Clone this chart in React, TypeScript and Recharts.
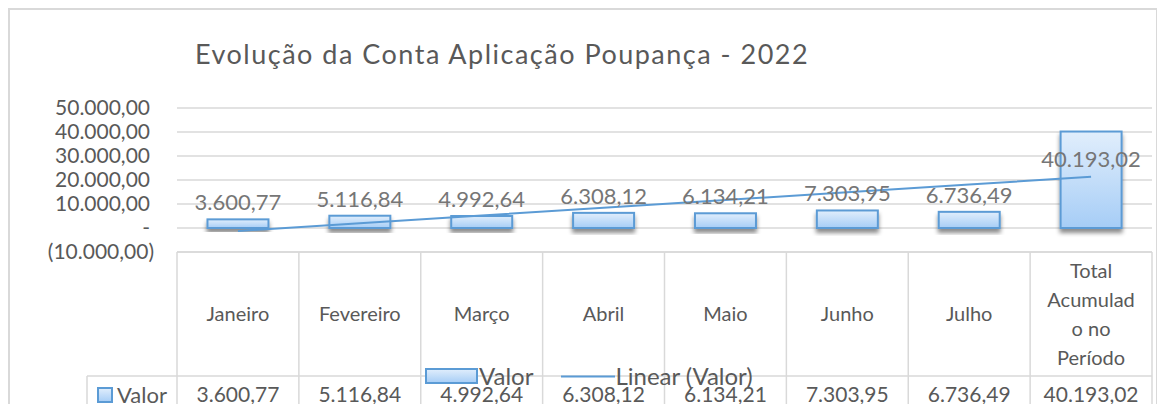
import {
  ComposedChart,
  Bar,
  Line,
  XAxis,
  YAxis,
  CartesianGrid,
  LabelList,
  Legend,
} from "recharts";

const categories = [
  "Janeiro",
  "Fevereiro",
  "Março",
  "Abril",
  "Maio",
  "Junho",
  "Julho",
  "Total Acumulado no Período",
];
const tickLines = [
  ["Janeiro"],
  ["Fevereiro"],
  ["Março"],
  ["Abril"],
  ["Maio"],
  ["Junho"],
  ["Julho"],
  ["Total", "Acumulad", "o no", "Período"],
];
const values = [3600.77, 5116.84, 4992.64, 6308.12, 6134.21, 7303.95, 6736.49, 40193.02];
// linear trendline (Janeiro -> Total)
const trendValues = [-1244, 1982, 5208, 8435, 11661, 14887, 18114, 21340];
const yTicks = [-10000, 0, 10000, 20000, 30000, 40000, 50000];

const W = 1165;
const H = 412;
const Y_AXIS_W = 177;
const X_AXIS_H = 160;
const MARGIN = { top: 108, right: 13, bottom: 0, left: 0 };
const COL_W = (W - Y_AXIS_W - MARGIN.right) / categories.length;

const BLUE = "#5b9bd5";
const GRID = "#d9d9d9";
const TEXT = "#595959";
const FONT = "Lato, 'Noto Sans', sans-serif";

const data = categories.map((name, i) => ({
  name,
  value: values[i],
  trend: trendValues[i],
}));

const fmt = (v: number) => {
  const [i, d] = Math.abs(v).toFixed(2).split(".");
  return `${i.replace(/\B(?=(\d{3})+(?!\d))/g, ".")},${d}`;
};

const yFmt = (v: number) => (v === 0 ? "-" : v < 0 ? `(${fmt(v)})` : fmt(v));

const YTick = (props: any) => {
  const { x, y, payload } = props;
  const v = payload.value;
  return (
    <text
      x={v < 0 ? x + 4 : x}
      y={y}
      dy="0.35em"
      textAnchor="end"
      fontFamily={FONT}
      fontSize={21}
      fill={TEXT}
    >
      {yFmt(v)}
    </text>
  );
};

const XTick = (props: any) => {
  const { x, y, payload } = props;
  const i = payload.index ?? props.index;
  const half = COL_W / 2;
  const rowY = y + 124;
  const lines = tickLines[i];
  const lh = 29;
  const midY = y + 62;
  return (
    <g>
      <line x1={x - half} x2={x + half} y1={y} y2={y} stroke={GRID} strokeWidth={1.5} />
      <line x1={x - half} x2={x + half} y1={rowY} y2={rowY} stroke={GRID} strokeWidth={1.5} />
      <line x1={x + half} x2={x + half} y1={y} y2={H} stroke={GRID} strokeWidth={1.5} />
      {i === 0 && (
        <g>
          <line x1={x - half} x2={x - half} y1={y} y2={H} stroke={GRID} strokeWidth={1.5} />
          <line x1={x - half - 90} x2={x - half} y1={rowY} y2={rowY} stroke={GRID} strokeWidth={1.5} />
          <line x1={x - half - 90} x2={x - half - 90} y1={rowY} y2={H} stroke={GRID} strokeWidth={1.5} />
          <rect
            x={x - half - 79}
            y={rowY + 12}
            width={14}
            height={14}
            fill="url(#barGrad)"
            stroke={BLUE}
            strokeWidth={2}
          />
          <text
            x={x - half - 60}
            y={rowY + 19}
            dy="0.35em"
            fontFamily={FONT}
            fontSize={22}
            fill={TEXT}
          >
            Valor
          </text>
        </g>
      )}
      {lines.map((t, k) => (
        <text
          key={k}
          x={x}
          y={midY + (k - (lines.length - 1) / 2) * lh}
          dy="0.35em"
          textAnchor="middle"
          fontFamily={FONT}
          fontSize={20}
          fill={TEXT}
        >
          {t}
        </text>
      ))}
      <text
        x={x}
        y={rowY + 19}
        dy="0.35em"
        textAnchor="middle"
        fontFamily={FONT}
        fontSize={21}
        fill={TEXT}
      >
        {fmt(values[i])}
      </text>
    </g>
  );
};

const renderLabel = (props: any) => {
  const { x, y, width, value, index } = props;
  // Excel put the big total label inside its bar
  const base = index === values.length - 1 ? y + 35 : y - 9;
  return (
    <text
      x={x + width / 2}
      y={base}
      textAnchor="middle"
      fontFamily={FONT}
      fontSize={22}
      fill="#767676"
    >
      {fmt(value)}
    </text>
  );
};

const BarShape = (props: any) => {
  const { x, y, width, height } = props;
  return (
    <rect
      x={x}
      y={y}
      width={width}
      height={height}
      fill="url(#barGrad)"
      stroke={BLUE}
      strokeWidth={2}
      filter="url(#barShadow)"
    />
  );
};

const LegendContent = () => (
  <div
    style={{
      display: "flex",
      alignItems: "center",
      fontFamily: FONT,
      fontSize: 24,
      color: TEXT,
      lineHeight: "20px",
      whiteSpace: "nowrap",
    }}
  >
    <svg width={54} height={17}>
      <rect x={1} y={1} width={51} height={14} fill="url(#barGrad)" stroke={BLUE} strokeWidth={2} />
    </svg>
    <span>Valor</span>
    <svg width={54} height={17} style={{ marginLeft: 28 }}>
      <line x1={0} x2={54} y1={8.5} y2={8.5} stroke={BLUE} strokeWidth={2} />
    </svg>
    <span>Linear (Valor)</span>
  </div>
);

export default function App() {
  return (
    <div style={{ position: "relative", width: W, height: H, margin: -8, overflow: "hidden", background: "#fff" }}>
      <div
        style={{
          position: "absolute",
          left: 8,
          top: 8,
          width: 1150,
          height: 440,
          border: `2px solid ${GRID}`,
          boxSizing: "border-box",
        }}
      />
      <div
        style={{
          position: "absolute",
          left: 195,
          top: 38,
          fontFamily: FONT,
          fontSize: 27,
          letterSpacing: 1.5,
          color: TEXT,
          whiteSpace: "pre",
          lineHeight: "32px",
        }}
      >
        Evolução da Conta Aplicação Poupança - 2022
      </div>
      <div style={{ position: "absolute", left: 0, top: 0 }}>
        <ComposedChart width={W} height={H} data={data} margin={MARGIN} barCategoryGap="25%">
          <defs>
            <linearGradient id="barGrad" x1="0" y1="0" x2="0" y2="1">
              <stop offset="0%" stopColor="#e1eefc" />
              <stop offset="100%" stopColor="#a6cdf6" />
            </linearGradient>
            <filter id="barShadow" x="-20%" y="-20%" width="140%" height="160%">
              <feDropShadow dx="0" dy="4" stdDeviation="2" floodColor="#000" floodOpacity="0.45" />
            </filter>
          </defs>
          <CartesianGrid vertical={false} stroke={GRID} strokeWidth={1.5} />
          <XAxis
            dataKey="name"
            height={X_AXIS_H}
            interval={0}
            axisLine={false}
            tickLine={false}
            tickSize={0}
            tickMargin={0}
            tick={<XTick />}
          />
          <YAxis
            width={Y_AXIS_W}
            domain={[-10000, 50000]}
            ticks={yTicks}
            axisLine={false}
            tickLine={false}
            tickSize={0}
            tickMargin={27}
            tick={<YTick />}
          />
          <Legend
            layout="horizontal"
            verticalAlign="middle"
            align="center"
            content={<LegendContent />}
            wrapperStyle={{ left: 425, top: 366, width: "auto" }}
          />
          <Bar dataKey="value" name="Valor" shape={<BarShape />} isAnimationActive={false}>
            <LabelList dataKey="value" content={renderLabel} />
          </Bar>
          <Line
            dataKey="trend"
            name="Linear (Valor)"
            stroke={BLUE}
            strokeWidth={2}
            dot={false}
            activeDot={false}
            isAnimationActive={false}
          />
        </ComposedChart>
      </div>
    </div>
  );
}
